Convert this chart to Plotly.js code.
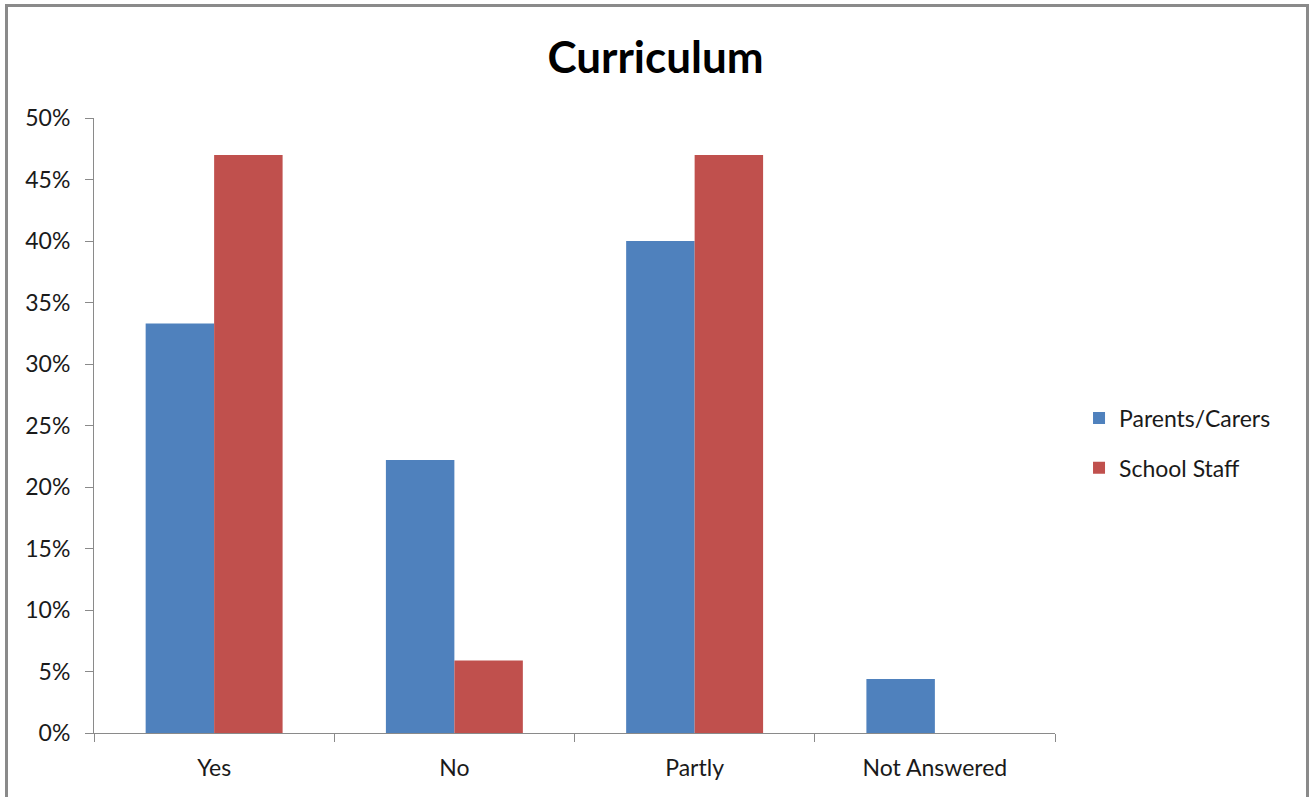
<!DOCTYPE html>
<html>
<head>
<meta charset="utf-8">
<script src="https://cdn.plot.ly/plotly-3.0.1.min.js"></script>
<style>
  html, body { margin: 0; padding: 0; background: #fff; overflow: hidden; }
  #chart { position: absolute; left: 0; top: 0; width: 1311px; height: 797px; }
  #frame { position: absolute; left: 5px; top: 4px; width: 1298px; height: 820px;
           border: 3px solid #8a8a8a; pointer-events: none; }
</style>
</head>
<body>
<div id="chart"></div>
<div id="frame"></div>
<script>
const categories = ["Yes", "No", "Partly", "Not Answered"];
const parentsCarers = [0.333, 0.222, 0.400, 0.044];
const schoolStaff = [0.470, 0.059, 0.470, 0];
const seriesNames = ["Parents/Carers", "School Staff"];
const yTickVals = [0, 0.05, 0.10, 0.15, 0.20, 0.25, 0.30, 0.35, 0.40, 0.45, 0.50];

const FONT = "Lato, 'Open Sans', sans-serif";

const traces = [
  { type: "bar", name: seriesNames[0], x: categories, y: parentsCarers,
    marker: { color: "#4F81BD" }, legendgroup: "a", hoverinfo: "x+y" },
  { type: "bar", name: seriesNames[1], x: categories, y: schoolStaff,
    marker: { color: "#C0504D" }, legendgroup: "b", hoverinfo: "x+y" }
];

const layout = {
  width: 1311, height: 797,
  paper_bgcolor: "#fff", plot_bgcolor: "#fff",
  margin: { l: 94, r: 256, t: 118, b: 64 },
  font: { family: FONT, color: "#1a1a1a", size: 22 },
  title: { text: "<b>Curriculum</b>", font: { family: FONT, size: 44, color: "#000" },
           x: 0.5, xref: "container", y: 1 - 58 / 797, yref: "container", yanchor: "middle" },
  barmode: "group", bargap: 0.43, bargroupgap: 0,
  showlegend: true,
  legend: { x: 1.025, xanchor: "left", y: (733 - 443) / 615, yanchor: "middle",
            traceorder: "grouped", tracegroupgap: 17,
            font: { family: FONT, size: 23, color: "#1a1a1a" } },
  xaxis: { type: "category", showline: true, linecolor: "#8a8a8a", linewidth: 1,
           ticks: "outside", tickson: "boundaries", ticklen: 8, tickcolor: "#8a8a8a",
           ticklabelstandoff: 14,
           showgrid: false, zeroline: false, tickfont: { size: 23 } },
  yaxis: { range: [0, 0.5], tickvals: yTickVals, tickformat: ".0%",
           showline: true, linecolor: "#8a8a8a", linewidth: 1,
           ticks: "outside", ticklen: 8, tickcolor: "#8a8a8a",
           ticklabelstandoff: 10,
           showgrid: false, zeroline: false, tickfont: { size: 23 } }
};

Plotly.newPlot("chart", traces, layout, { displayModeBar: false, staticPlot: true });
</script>
</body>
</html>
